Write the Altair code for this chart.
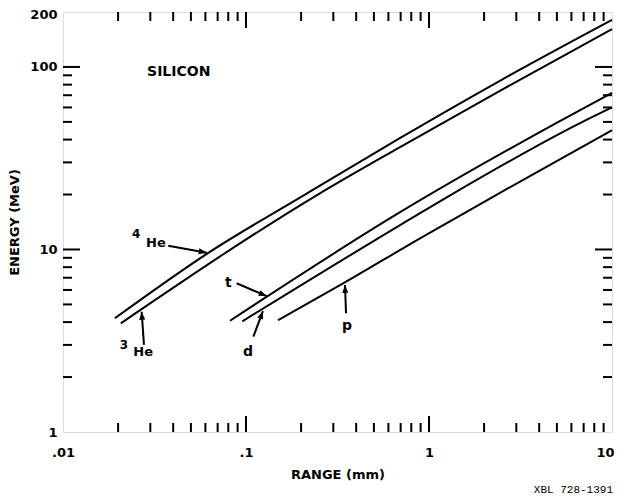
import math
import altair as alt
import pandas as pd

# ---------------- data ----------------
he4_range = [0.0192, 0.0614, 0.21, 0.70, 2.44, 10]
he4_energy = [4.2, 9.5, 20, 41, 84, 181]

he3_range = [0.0207, 0.247, 0.695, 2.44, 10]
he3_energy = [3.94, 20, 36.4, 74, 161]

t_range = [0.0818, 0.695, 5.1, 10]
t_energy = [4.07, 16.0, 50, 72]

d_range = [0.0955, 0.695, 1.25, 6.9, 10]
d_energy = [4.04, 13.6, 19.3, 50, 60]

p_range = [0.1496, 0.347, 0.893, 2.35, 10]
p_energy = [4.1, 6.6, 11.5, 20, 45]

x_tick_values = [0.01, 0.1, 1, 10]
x_tick_labels = [".01", ".1", "1", "10"]
y_tick_values = [1, 10, 100, 200]
y_tick_labels = ["1", "10", "100", "200"]

x_major_ticks = [0.1, 1]
x_minor_ticks = [0.02, 0.03, 0.04, 0.05, 0.06, 0.07, 0.08, 0.09,
                 0.2, 0.3, 0.4, 0.5, 0.6, 0.7, 0.8, 0.9,
                 2, 3, 4, 5, 6, 7, 8, 9]
y_major_ticks = [10, 100]
y_minor_ticks = [2, 3, 4, 5, 6, 7, 8, 9, 20, 30, 40, 50, 60, 70, 80, 90]

# labels (text, range, energy)
label_text = ["4", "He", "3", "He", "t", "d", "p"]
label_range = [0.0251, 0.0322, 0.0215, 0.0274, 0.0802, 0.1026, 0.3565]
label_energy = [12.2, 10.9, 3.0, 2.74, 6.55, 2.74, 3.81]
label_size = [12, 13, 12, 13, 14, 14, 14]

# arrows: start -> tip
arrow_range1 = [0.0376, 0.0277, 0.0889, 0.1097, 0.352]
arrow_energy1 = [10.49, 3.00, 6.53, 3.33, 4.47]
arrow_range2 = [0.0610, 0.0269, 0.1297, 0.1238, 0.3475]
arrow_energy2 = [9.6, 4.56, 5.55, 4.60, 6.39]

material = "SILICON"
material_range = 0.0288
material_energy = 93.9

# ---------------- layout ----------------
W, H = 549, 420
X_DOM = [0.01, 10]
Y_DOM = [1, 200]
px_per_dec_x = W / (math.log10(X_DOM[1]) - math.log10(X_DOM[0]))
px_per_dec_y = H / (math.log10(Y_DOM[1]) - math.log10(Y_DOM[0]))

FONT = "DejaVu Sans"

rows = []
for name, xs, ys in [("4He", he4_range, he4_energy), ("3He", he3_range, he3_energy),
                     ("t", t_range, t_energy), ("d", d_range, d_energy),
                     ("p", p_range, p_energy)]:
    for xv, yv in zip(xs, ys):
        rows.append({"series": name, "range": xv, "energy": yv})
curves = pd.DataFrame(rows)


def label_expr(values, labels):
    expr = "''"
    for v, l in reversed(list(zip(values, labels))):
        expr = f"(abs(datum.value - {v}) < {v * 1e-6}) ? '{l}' : ({expr})"
    return expr


x_scale = alt.Scale(type="log", domain=X_DOM, nice=False)
y_scale = alt.Scale(type="log", domain=Y_DOM, nice=False)

axis_style = dict(labelFont=FONT, labelFontWeight="bold", labelFontSize=13, labelColor="black",
                  titleFont=FONT, titleFontWeight="bold", titleFontSize=13, titleColor="black",
                  ticks=False, tickSize=0, domain=False, grid=False,
                  labelFlush=False, labelOverlap=False)

x_axis = alt.Axis(values=x_tick_values, labelExpr=label_expr(x_tick_values, x_tick_labels),
                  title="RANGE (mm)", labelPadding=14, titlePadding=9,
                  labelOffset={"condition": {"test": f"datum.value >= {X_DOM[1]}", "value": -7},
                               "value": 0},
                  **axis_style)
y_axis = alt.Axis(values=y_tick_values, labelExpr=label_expr(y_tick_values, y_tick_labels),
                  title="ENERGY (MeV)", labelPadding=6, titlePadding=8,
                  labelOffset={"condition": {"test": f"datum.value >= {Y_DOM[1]}", "value": 2},
                               "value": 0},
                  **axis_style)

lines = alt.Chart(curves).mark_line(color="black", strokeWidth=2, interpolate="monotone").encode(
    x=alt.X("range:Q", scale=x_scale, axis=x_axis),
    y=alt.Y("energy:Q", scale=y_scale, axis=y_axis),
    detail="series:N",
)

MAJ, MIN = 16, 9
tick_layers = []
for vals, ln in [(x_major_ticks, MAJ), (x_minor_ticks, MIN)]:
    df = pd.DataFrame({"range": vals})
    tick_layers.append(alt.Chart(df).mark_rule(color="black", strokeWidth=2, y2Offset=-ln).encode(
        x="range:Q", y=alt.datum(Y_DOM[0]), y2=alt.datum(Y_DOM[0])))
    tick_layers.append(alt.Chart(df).mark_rule(color="black", strokeWidth=2, y2Offset=ln).encode(
        x="range:Q", y=alt.datum(Y_DOM[1]), y2=alt.datum(Y_DOM[1])))
for vals, ln in [(y_major_ticks, MAJ + 1), (y_minor_ticks, MIN)]:
    df = pd.DataFrame({"energy": vals})
    tick_layers.append(alt.Chart(df).mark_rule(color="black", strokeWidth=2, x2Offset=ln).encode(
        y="energy:Q", x=alt.datum(X_DOM[0]), x2=alt.datum(X_DOM[0])))
    tick_layers.append(alt.Chart(df).mark_rule(color="black", strokeWidth=2, x2Offset=-ln).encode(
        y="energy:Q", x=alt.datum(X_DOM[1]), x2=alt.datum(X_DOM[1])))

angles = []
for x1, y1, x2, y2 in zip(arrow_range1, arrow_energy1, arrow_range2, arrow_energy2):
    dx = (math.log10(x2) - math.log10(x1)) * px_per_dec_x
    dy = -(math.log10(y2) - math.log10(y1)) * px_per_dec_y
    angles.append(math.degrees(math.atan2(dx, -dy)) % 360)
arrows = pd.DataFrame({"range": arrow_range1, "energy": arrow_energy1,
                       "range2": arrow_range2, "energy2": arrow_energy2, "angle": angles})

shafts = alt.Chart(arrows).mark_rule(color="black", strokeWidth=2).encode(
    x="range:Q", y="energy:Q", x2="range2:Q", y2="energy2:Q")
heads = alt.Chart(arrows).mark_point(shape="M0,0L-0.38,1L0.38,1Z", filled=True, color="black",
                                     opacity=1, size=256, strokeWidth=0).encode(
    x="range2:Q", y="energy2:Q", angle=alt.Angle("angle:Q", scale=None))

labels = alt.Chart(pd.DataFrame({"text": label_text, "range": label_range,
                                 "energy": label_energy, "size": label_size})).mark_text(
    font=FONT, fontWeight="bold", color="black", align="center", baseline="middle").encode(
    x="range:Q", y="energy:Q", text="text:N", size=alt.Size("size:Q", scale=None))

mat = alt.Chart(pd.DataFrame({"text": [material], "range": [material_range],
                              "energy": [material_energy]})).mark_text(
    font=FONT, fontWeight="bold", fontSize=14, color="black", align="left", baseline="middle").encode(
    x="range:Q", y="energy:Q", text="text:N")

chart = alt.layer(lines, *tick_layers, shafts, heads, labels, mat).properties(
    width=W, height=H,
    autosize=alt.AutoSizeParams(type="none"),
    padding={"left": 55, "top": 4, "right": 2, "bottom": 64},
    title=alt.TitleParams("XBL 728-1391", orient="bottom", anchor="end", font="Liberation Mono",
                          fontSize=11, fontWeight="normal", color="black", frame="group",
                          offset=3, dx=1),
).configure_view(stroke="black", strokeWidth=2).configure(background="white")

chart.save("out.html", embed_options={"renderer": "svg", "actions": False})
